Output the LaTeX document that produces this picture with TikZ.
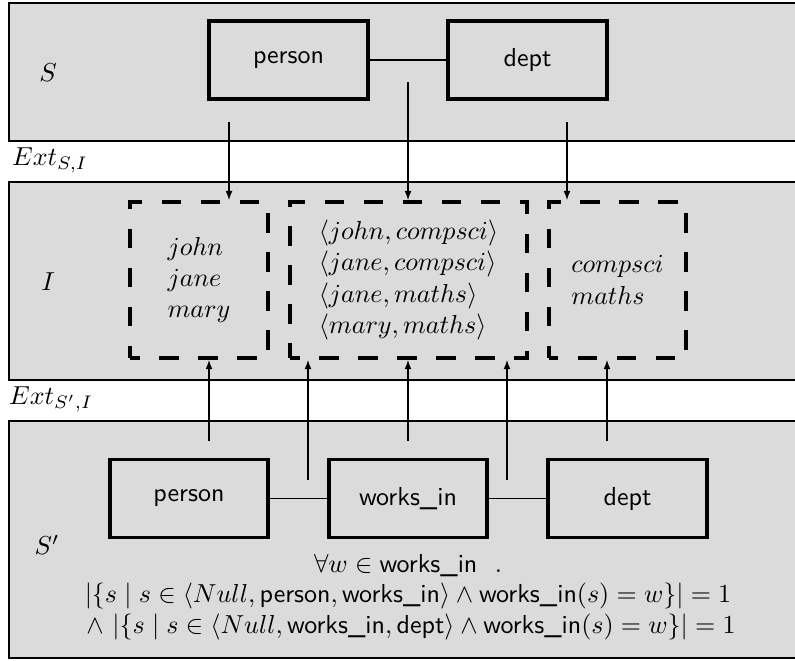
\documentclass[tikz,border=0pt]{standalone}
\usepackage{amsmath}
\usepackage{amssymb}
\usetikzlibrary{arrows.meta}
\newcommand{\worksin}{\textsf{works\_in}}

\begin{document}
\begin{tikzpicture}[x=0.3846pt, y=-0.3846pt,
		panel/.style={draw=black, fill=black!14, line width=0.5pt},
		entity/.style={shape=rectangle, draw=black, line width=1.5pt, minimum width=61pt, minimum height=30pt, font=\sffamily},
		extent/.style={shape=rectangle, draw=black, line width=1.5pt, dash pattern=on 7.5pt off 7.5pt, dash phase=3.75pt, minimum height=60pt, align=left},
		ext/.style={-{Latex[length=3.5pt,width=2.6pt]}, line width=0.4pt},
		link/.style={line width=0.6pt}]
			\useasboundingbox (0,0) rectangle (795,660);
			\path[panel] (9,3) rectangle (805,141);
			\path[panel] (9,182) rectangle (805,380);
			\path[panel] (9,421) rectangle (805,658);
			
			\node (s) at (48,73) {$S$};
			\node (i) at (48,282) {$I$};
			\node (s2) at (47,545) {$S'$};
			\node[anchor=west] (extsi) at (3,160) {$Ext_{S,I}$};
			\node[anchor=west] (exts2i) at (0,399) {$Ext_{S',I}$};
			
			\node[entity] (person) at (288.5,60) {person};
			\node[entity] (dept) at (527.5,60) {dept};
			
			\node[extent, minimum width=53pt] (pext) at (199,280) {$john$\\$jane$\\$mary$};
			\node[extent, minimum width=91pt] (wext) at (408.5,280) {$\langle john, compsci\rangle$\\$\langle jane, compsci\rangle$\\$\langle jane, maths\rangle$\\$\langle mary, maths\rangle$};
			\node[extent, minimum width=53pt] (dext) at (617.5,280) {$compsci$\\$maths$};
			
			\node[entity] (bperson) at (189,498.5) {person};
			\node[entity] (worksin) at (408,498.5) {works\_in};
			\node[entity] (bdept) at (627.5,498.5) {dept};
			
			\node[anchor=base] (c1) at (408,572) {$\forall w \in \worksin\ \ .$};
			\node[anchor=base] (c2) at (408,602) {$|\{s \mid s \in \langle Null, \textsf{person}, \worksin\rangle \wedge \worksin(s) = w\}| = 1$};
			\node[anchor=base] (c3) at (411,633) {$\wedge\ |\{s \mid s \in \langle Null, \worksin, \textsf{dept}\rangle \wedge \worksin(s) = w\}| = 1$};
			
			\coordinate (a1) at (229,122);
			\coordinate (a2) at (408,82);
			\coordinate (a3) at (567,122);
			\coordinate (b1) at (209,441);
			\coordinate (b2) at (308,480);
			\coordinate (b3) at (408,441);
			\coordinate (b4) at (507,480);
			\coordinate (b5) at (607,441);
			
			\path [link] (person) edge (dept);
			\path [link] (bperson) edge (worksin);
			\path [link] (worksin) edge (bdept);
			
			\path [ext] (a1) edge (a1 |- pext.north);
			\path [ext] (a2) edge (a2 |- wext.north);
			\path [ext] (a3) edge (a3 |- dext.north);
			\path [ext] (b1) edge (b1 |- pext.south);
			\path [ext] (b2) edge (b2 |- wext.south);
			\path [ext] (b3) edge (b3 |- wext.south);
			\path [ext] (b4) edge (b4 |- wext.south);
			\path [ext] (b5) edge (b5 |- dext.south);
		\end{tikzpicture}
\end{document}
